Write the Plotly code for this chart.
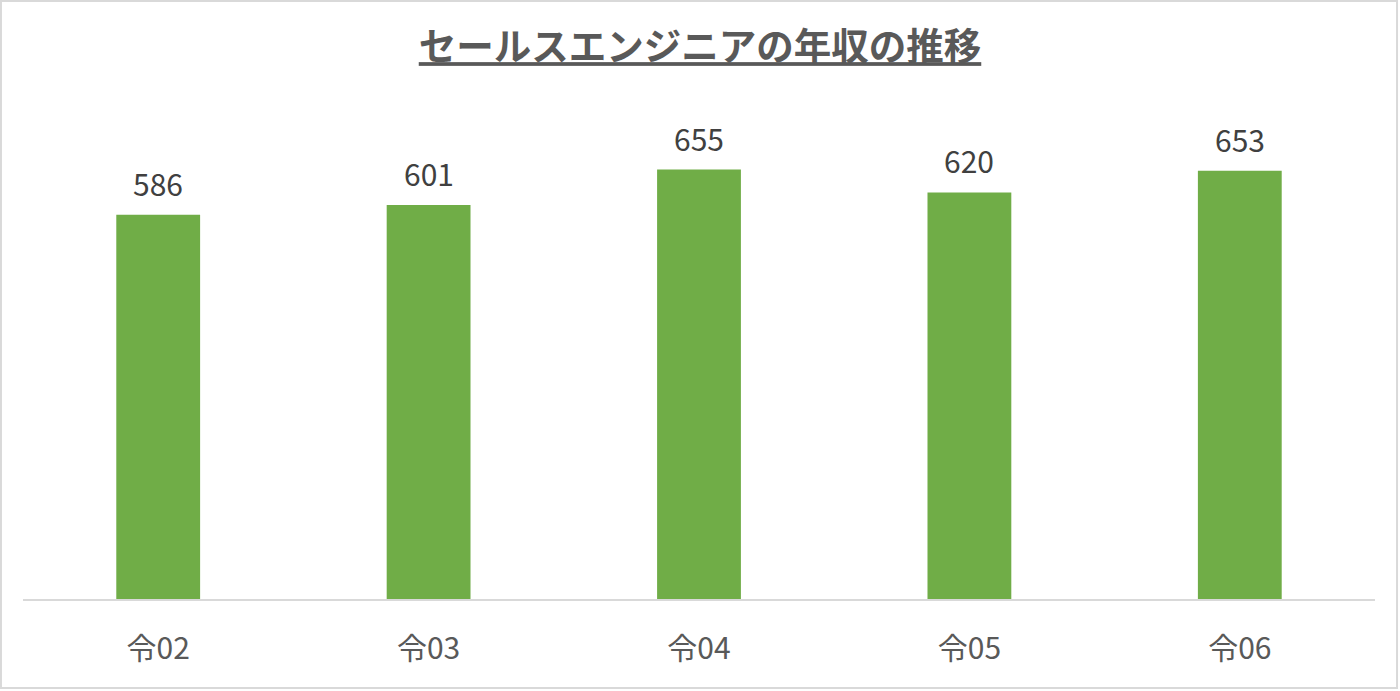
import plotly.graph_objects as go

categories = ["令02", "令03", "令04", "令05", "令06"]
values = [586, 601, 655, 620, 653]
title_text = "セールスエンジニアの年収の推移"

FONT = "Noto Sans CJK JP"

fig = go.Figure(
    go.Bar(
        x=categories,
        y=values,
        marker=dict(color="#70AD47", line=dict(width=0)),
        hoverinfo="skip",
    )
)

annotations = [
    dict(
        x=c,
        y=v,
        xref="x",
        yref="y",
        text=str(v),
        showarrow=False,
        yanchor="bottom",
        yshift=8,
        font=dict(family=FONT, size=30, color="#404040"),
    )
    for c, v in zip(categories, values)
]

fig.update_layout(
    width=1400,
    height=691,
    paper_bgcolor="white",
    plot_bgcolor="white",
    margin=dict(l=23, r=25, t=140, b=92),
    bargap=0.69,
    showlegend=False,
    title=dict(
        text="<b><u>" + title_text + "</u></b>",
        x=0.5,
        xanchor="center",
        y=1 - 47 / 691,
        yanchor="middle",
        font=dict(family=FONT, size=37.5, color="#595959"),
    ),
    xaxis=dict(
        showline=True,
        linecolor="#D9D9D9",
        linewidth=2,
        ticks="",
        showgrid=False,
        tickfont=dict(family=FONT, size=30, color="#595959"),
        ticklabelstandoff=22,
    ),
    yaxis=dict(
        range=[0, 700],
        visible=False,
        showgrid=False,
        zeroline=False,
    ),
    annotations=annotations,
    shapes=[
        dict(
            type="rect",
            xref="paper",
            yref="paper",
            x0=-0.0163,
            x1=1.0163,
            y0=-0.194,
            y1=1.3028,
            line=dict(color="#D9D9D9", width=2),
            fillcolor="rgba(0,0,0,0)",
            layer="below",
        )
    ],
)

fig.write_html(
    "out.html",
    config={"displayModeBar": False},
    post_script="document.body.style.margin='0';",
)
